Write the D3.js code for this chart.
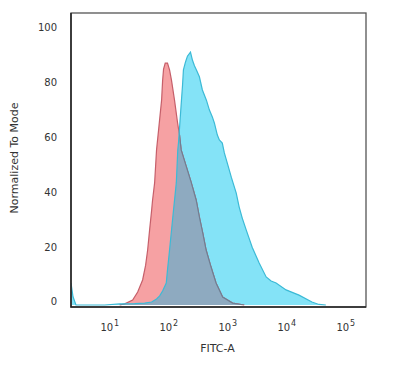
<!DOCTYPE html>
<html>
<head>
<meta charset="utf-8">
<script src="https://cdn.jsdelivr.net/npm/d3@7"></script>
<style>
  body { margin: 0; background: #fff; }
  text { font-family: "DejaVu Sans", Verdana, sans-serif; fill: #333; }
</style>
</head>
<body>
<div id="chart-area"></div>
<script>
// Isotype control (red) histogram: [FITC-A intensity, % of mode]
const controlData = [
    [14.7, 0], [17.9, 0.4], [24.4, 1.8], [29.7, 4.7], [36, 9.1], [40.5, 14.5],
    [43.8, 20], [47.3, 27.3], [51.2, 34.5], [53, 38], [57.5, 44.4], [62, 56.4],
    [67.1, 63.6], [75.5, 74.5], [78.5, 81.5], [81.5, 85.8], [87, 88], [95, 88],
    [103, 85.5], [111, 81.8], [125, 74.5], [141, 66.2], [152, 61.8], [162, 56.4],
    [197, 50.5], [239, 44.7], [291, 38.2], [330, 32], [376, 26.2], [429, 20],
    [520, 13.8], [632, 8], [817, 2.9], [1205, 0.7], [1900, 0]
];

// Stained sample (blue) histogram
const sampleData = [
    [2.2, 8], [2.38, 3], [2.67, 0], [8.2, 0], [14.7, 0.4], [26.4, 0.5], [39, 0.7],
    [51.2, 1.1], [62, 2.2], [70, 3.3], [78.5, 5.1], [90.6, 8], [95, 12.7],
    [103, 20], [117, 32], [134, 44.4], [142, 56.4], [146, 59], [164, 74.5],
    [171, 80], [177, 85.5], [192, 88.4], [207, 90.5], [233, 92], [252, 89],
    [272, 87], [294, 85.5], [330, 83], [371, 78.2], [434, 74.5], [488, 70.9],
    [547, 68.4], [592, 66.2], [665, 61.8], [719, 60], [807, 58.9], [874, 55.3],
    [981, 51.6], [1146, 46.5], [1390, 40.7], [1560, 35.6], [1758, 31.6],
    [2050, 27.3], [2590, 21], [3400, 15.3], [4470, 10.2], [5420, 8.7],
    [6590, 8], [9710, 5.5], [16100, 3.6], [26700, 1.1], [35000, 0.2], [45900, 0]
];

const yTicks = [0, 20, 40, 60, 80, 100];
const xTickExps = [1, 2, 3, 4, 5];

const margin = { top: 13, right: 34, bottom: 60, left: 71 };
const width = 400 - margin.left - margin.right;
const height = 367 - margin.top - margin.bottom;

const svg = d3.select("#chart-area")
    .append("svg")
    .attr("width", 400)
    .attr("height", 367)
    .append("g")
    .attr("transform", "translate(" + margin.left + "," + margin.top + ")");

// Scales
const xScale = d3.scaleLog().domain([2.2, 2.2e5]).range([0, width]);
const yScale = d3.scaleLinear().domain([-0.73, 106.2]).range([height, 0]);

const area = d3.area()
    .x(d => xScale(d[0]))
    .y0(yScale(0))
    .y1(d => yScale(d[1]));

const line = d3.line()
    .x(d => xScale(d[0]))
    .y(d => yScale(d[1]));

const defs = svg.append("defs");
defs.append("clipPath").attr("id", "plot-clip")
    .append("rect").attr("width", width).attr("height", height);
defs.append("clipPath").attr("id", "blue-clip")
    .append("path").attr("d", area(sampleData));

const plot = svg.append("g").attr("clip-path", "url(#plot-clip)");

// Blue sample fill
plot.append("path")
    .attr("d", area(sampleData))
    .attr("fill", "#84e3f7");

// Red control fill + outline
plot.append("path")
    .attr("d", area(controlData))
    .attr("fill", "#f6a1a3");
plot.append("path")
    .attr("d", line(controlData))
    .attr("fill", "none")
    .attr("stroke", "#c65f6a")
    .attr("stroke-width", 1.2);

// Overlap region
const overlap = plot.append("g").attr("clip-path", "url(#blue-clip)");
overlap.append("path")
    .attr("d", area(controlData))
    .attr("fill", "#8eaac0");
overlap.append("path")
    .attr("d", line(controlData))
    .attr("fill", "none")
    .attr("stroke", "#6e7f93")
    .attr("stroke-width", 1.2);

// Blue outline
plot.append("path")
    .attr("d", line(sampleData))
    .attr("fill", "none")
    .attr("stroke", "#3cbad6")
    .attr("stroke-width", 1.2);

// Frame
svg.append("rect")
    .attr("width", width)
    .attr("height", height)
    .attr("fill", "none")
    .attr("stroke", "#555")
    .attr("stroke-width", 1.3);
svg.append("path")
    .attr("d", "M0,0V" + height + "H" + width)
    .attr("fill", "none")
    .attr("stroke", "#222")
    .attr("stroke-width", 1.5);

// Y tick labels
svg.selectAll(".y-tick")
    .data(yTicks)
    .enter()
    .append("text")
    .attr("class", "y-tick")
    .attr("x", -14)
    .attr("y", d => yScale(d) - 3)
    .attr("dy", "0.35em")
    .attr("text-anchor", "end")
    .style("font-size", "10px")
    .text(d => d);

// X tick labels (powers of ten)
const xt = svg.selectAll(".x-tick")
    .data(xTickExps)
    .enter()
    .append("text")
    .attr("class", "x-tick")
    .attr("x", d => xScale(Math.pow(10, d)))
    .attr("y", height + 24)
    .attr("text-anchor", "middle")
    .style("font-size", "10px");
xt.append("tspan").text("10");
xt.append("tspan")
    .attr("dy", -5)
    .attr("dx", 1)
    .style("font-size", "8px")
    .text(d => d);

// Axis titles
svg.append("text")
    .attr("x", width / 2 - 1)
    .attr("y", height + 45)
    .attr("text-anchor", "middle")
    .style("font-size", "11px")
    .text("FITC-A");

svg.append("text")
    .attr("transform", "rotate(-90)")
    .attr("x", -145)
    .attr("y", -53)
    .attr("text-anchor", "middle")
    .style("font-size", "11px")
    .text("Normalized To Mode");
</script>
</body>
</html>
